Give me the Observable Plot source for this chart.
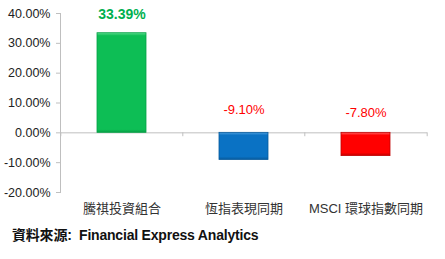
<!DOCTYPE html>
<html><head><meta charset="utf-8">
<script src="https://cdn.jsdelivr.net/npm/d3@7"></script>
<script src="https://cdn.jsdelivr.net/npm/@observablehq/plot@0.6"></script>
<style>
body{margin:0;background:#fff;font-family:"Liberation Sans","Noto Sans CJK TC",sans-serif;}
#cap{position:absolute;left:12px;top:224px;font-size:14px;font-weight:bold;color:#111;letter-spacing:-0.2px;}
</style></head>
<body><div id="chart"></div><div id="cap">資料來源:&nbsp; Financial Express Analytics</div>
<script>
const categories = ["騰祺投資組合", "恆指表現同期", "MSCI 環球指數同期"];
const values = [33.39, -9.10, -7.80];
const labels = ["33.39%", "-9.10%", "-7.80%"];
const yTicks = [40, 30, 20, 10, 0, -10, -20];
const barColors = ["#0DBE55", "#0A72C4", "#FF0000"];
const barLights = ["#5ADB8C", "#4A9CDC", "#FF6060"];
const barEdges = ["#07A046", "#075A9C", "#C00000"];
const labelColors = ["#00B050", "#FF0000", "#FF0000"];

const data = categories.map((c, i) => ({cat: c, value: values[i], label: labels[i], i}));
const pos = data.filter(d => d.value > 0);
const neg = data.filter(d => d.value <= 0);

const defs = (index, scales) => {
  const ns = "http://www.w3.org/2000/svg";
  const d = document.createElementNS(ns, "defs");
  data.forEach((row) => {
    const h = Math.abs(scales.y(row.value) - scales.y(0));
    const f = Math.min(0.2, 3 / h);
    const g = document.createElementNS(ns, "linearGradient");
    g.setAttribute("id", "grad" + row.i);
    g.setAttribute("x1", "0"); g.setAttribute("y1", "0"); g.setAttribute("x2", "0"); g.setAttribute("y2", "1");
    [[0, barLights[row.i]], [f, barColors[row.i]], [1 - f, barColors[row.i]], [1, barEdges[row.i]]].forEach(([o, c]) => {
      const s = document.createElementNS(ns, "stop");
      s.setAttribute("offset", o); s.setAttribute("stop-color", c);
      g.appendChild(s);
    });
    d.appendChild(g);
  });
  return d;
};

const chart = Plot.plot({
  width: 445, height: 222,
  marginLeft: 60, marginRight: 18, marginTop: 13, marginBottom: 30,
  style: {fontFamily: '"Liberation Sans","Noto Sans CJK TC",sans-serif', background: "#fff"},
  x: {domain: categories, paddingInner: 0.6, paddingOuter: 0.3, axis: null},
  y: {domain: [-20, 40], axis: null},
  marks: [
    defs,
    Plot.axisY({ticks: yTicks, tickSize: 4, tickPadding: 6, tickFormat: d => d.toFixed(2) + "%", stroke: "#BFBFBF", fill: "#222", fontSize: 12.5, label: null}),
    Plot.frame({anchor: "left", stroke: "#BFBFBF"}),
    Plot.ruleY([0], {stroke: "#BFBFBF"}),
    ...data.map(row => Plot.barY([row], {x: "cat", y: "value", fill: `url(#grad${row.i})`, stroke: barEdges[row.i], strokeWidth: 0.8})),
    Plot.ruleX(data, {x: "cat", dx: -61.2, y1: 0, y2: -1.3, stroke: "#BFBFBF"}),
    Plot.ruleX(data.slice(-1), {x: "cat", dx: 61.2, y1: 0, y2: -1.3, stroke: "#BFBFBF"}),
    Plot.text(pos, {x: "cat", y: "value", dy: -19, text: "label",
      fill: d => labelColors[d.i], fontSize: 14, fontWeight: "bold", lineAnchor: "middle"}),
    Plot.text(neg, {x: "cat", y: d => -d.value * 0.85, text: "label",
      fill: d => labelColors[d.i], fontSize: 13, lineAnchor: "middle"}),
    Plot.text(categories, {x: d => d, frameAnchor: "bottom", dy: 20, text: d => d, fontSize: 13, fill: "#333"})
  ]
});
document.getElementById("chart").appendChild(chart);
</script></body></html>
